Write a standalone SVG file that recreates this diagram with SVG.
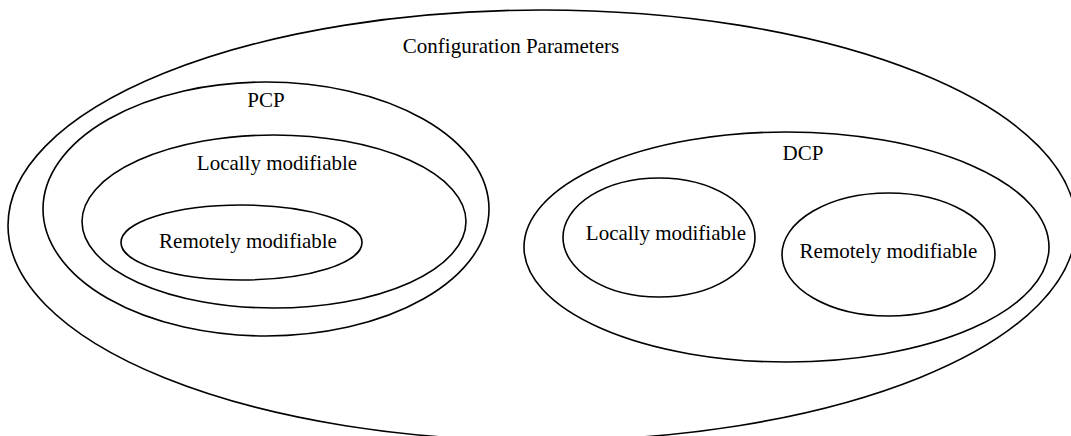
<svg xmlns="http://www.w3.org/2000/svg" width="1071" height="436" viewBox="0 0 1071 436">
<style>
.s{fill:none;stroke:#000;stroke-width:1.6}
.t{font-family:"Liberation Serif","Times New Roman",serif;font-size:21px;fill:#000;text-anchor:middle}
</style>
<rect width="1071" height="436" fill="#fff"/>
<g id="config-params">
<ellipse class="s" cx="542" cy="225.4" rx="534" ry="215.4"/>
<text class="t" x="511" y="53">Configuration Parameters</text>
</g>
<g id="pcp">
<ellipse class="s" cx="266" cy="209" rx="223" ry="127"/>
<text class="t" x="266" y="107">PCP</text>
</g>
<g id="pcp-local">
<ellipse class="s" cx="274" cy="221.5" rx="192" ry="86.5"/>
<text class="t" x="277" y="170">Locally modifiable</text>
</g>
<g id="pcp-remote">
<ellipse class="s" cx="241.5" cy="242.5" rx="120.5" ry="37.5"/>
<text class="t" x="248" y="248">Remotely modifiable</text>
</g>
<g id="dcp">
<ellipse class="s" cx="786.5" cy="247" rx="262.5" ry="115"/>
<text class="t" x="803" y="160">DCP</text>
</g>
<g id="dcp-local">
<ellipse class="s" cx="659" cy="237.5" rx="96" ry="59.5"/>
<text class="t" x="666" y="240">Locally modifiable</text>
</g>
<g id="dcp-remote">
<ellipse class="s" cx="888.5" cy="254.5" rx="106.5" ry="61.5"/>
<text class="t" x="888.5" y="258">Remotely modifiable</text>
</g>
<g id="connectors"></g>
</svg>
